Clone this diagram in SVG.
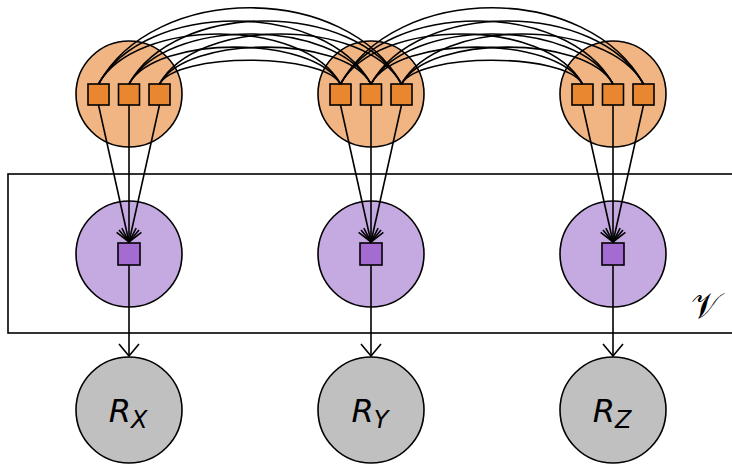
<svg xmlns="http://www.w3.org/2000/svg" width="732" height="466" viewBox="0 0 732 466">
<defs>
<style>
.oc{fill:#F1B583;stroke:#000;stroke-width:1.6}
.os{fill:#E8872F;stroke:#000;stroke-width:1.6}
.pc{fill:#C5A9E1;stroke:#000;stroke-width:1.6}
.ps{fill:#A46CD0;stroke:#000;stroke-width:1.6}
.gc{fill:#C0C0C0;stroke:#000;stroke-width:1.6}
.arc{fill:none;stroke:#000;stroke-width:1.6}
.ar{fill:none;stroke:#000;stroke-width:1.6;marker-end:url(#ah)}
.lbl{font-family:"DejaVu Sans",sans-serif;font-style:italic;fill:#000}
</style>
<marker id="ah" markerUnits="userSpaceOnUse" markerWidth="30" markerHeight="30" viewBox="-15 -15 30 30" refX="0" refY="0" orient="auto">
<path d="M-12,-10 L0,0 L-12,10" fill="none" stroke="#000" stroke-width="1.6"/>
</marker>
</defs>
<rect x="8" y="174" width="740" height="159" fill="none" stroke="#000" stroke-width="1.6"/>
<text x="705" y="318" font-family="DejaVu Serif,serif" font-size="35" text-anchor="middle" fill="#000">𝒱</text>
<g id="O1"><circle class="oc" cx="129" cy="94" r="53"/><rect class="os" x="88" y="84" width="21" height="21"/><rect class="os" x="118.5" y="84" width="21" height="21"/><rect class="os" x="149" y="84" width="21" height="21"/></g>
<g id="O2"><circle class="oc" cx="371" cy="94" r="53"/><rect class="os" x="330" y="84" width="21" height="21"/><rect class="os" x="360.5" y="84" width="21" height="21"/><rect class="os" x="391" y="84" width="21" height="21"/></g>
<g id="O3"><circle class="oc" cx="613" cy="94" r="53"/><rect class="os" x="572" y="84" width="21" height="21"/><rect class="os" x="602.5" y="84" width="21" height="21"/><rect class="os" x="633" y="84" width="21" height="21"/></g>
<g id="P1"><circle class="pc" cx="129" cy="254" r="53"/><rect class="ps" x="118" y="243" width="22" height="22"/></g>
<g id="P2"><circle class="pc" cx="371" cy="254" r="53"/><rect class="ps" x="360" y="243" width="22" height="22"/></g>
<g id="P3"><circle class="pc" cx="613" cy="254" r="53"/><rect class="ps" x="602" y="243" width="22" height="22"/></g>
<g id="RX"><circle class="gc" cx="129" cy="410" r="53"/><text class="lbl" x="128" y="422" font-size="32" text-anchor="middle">R<tspan font-size="24" dy="6">X</tspan></text></g>
<g id="RY"><circle class="gc" cx="371" cy="410" r="53"/><text class="lbl" x="370" y="422" font-size="32" text-anchor="middle">R<tspan font-size="24" dy="6">Y</tspan></text></g>
<g id="RZ"><circle class="gc" cx="613" cy="410" r="53"/><text class="lbl" x="612" y="422" font-size="32" text-anchor="middle">R<tspan font-size="24" dy="6">Z</tspan></text></g>
<g id="connectors">
<g id="arcs1">
<path class="arc" d="M98.5,84 C135.2,17.3 303.8,17.3 340.5,84"/>
<path class="arc" d="M98.5,84 C144.8,-0.1 324.7,-0.1 371,84"/>
<path class="arc" d="M98.5,84 C154.4,-17.6 345.6,-17.6 401.5,84"/>
<path class="arc" d="M129,84 C156.1,34.8 313.4,34.8 340.5,84"/>
<path class="arc" d="M129,84 C165.7,17.3 334.3,17.3 371,84"/>
<path class="arc" d="M129,84 C175.3,-0.1 355.2,-0.1 401.5,84"/>
<path class="arc" d="M159.5,84 C176.9,52.3 323.1,52.3 340.5,84"/>
<path class="arc" d="M159.5,84 C186.6,34.8 343.9,34.8 371,84"/>
<path class="arc" d="M159.5,84 C196.2,17.3 364.8,17.3 401.5,84"/>
</g>
<g id="arcs2" transform="translate(242,0)">
<path class="arc" d="M98.5,84 C135.2,17.3 303.8,17.3 340.5,84"/>
<path class="arc" d="M98.5,84 C144.8,-0.1 324.7,-0.1 371,84"/>
<path class="arc" d="M98.5,84 C154.4,-17.6 345.6,-17.6 401.5,84"/>
<path class="arc" d="M129,84 C156.1,34.8 313.4,34.8 340.5,84"/>
<path class="arc" d="M129,84 C165.7,17.3 334.3,17.3 371,84"/>
<path class="arc" d="M129,84 C175.3,-0.1 355.2,-0.1 401.5,84"/>
<path class="arc" d="M159.5,84 C176.9,52.3 323.1,52.3 340.5,84"/>
<path class="arc" d="M159.5,84 C186.6,34.8 343.9,34.8 371,84"/>
<path class="arc" d="M159.5,84 C196.2,17.3 364.8,17.3 401.5,84"/>
</g>
<path class="ar" d="M98.5,105 L129,242"/>
<path class="ar" d="M129,105 L129,242"/>
<path class="ar" d="M159.5,105 L129,242"/>
<path class="ar" d="M340.5,105 L371,242"/>
<path class="ar" d="M371,105 L371,242"/>
<path class="ar" d="M401.5,105 L371,242"/>
<path class="ar" d="M582.5,105 L613,242"/>
<path class="ar" d="M613,105 L613,242"/>
<path class="ar" d="M643.5,105 L613,242"/>
<path class="ar" d="M129,265 L129,356"/>
<path class="ar" d="M371,265 L371,356"/>
<path class="ar" d="M613,265 L613,356"/>
</g>
</svg>
